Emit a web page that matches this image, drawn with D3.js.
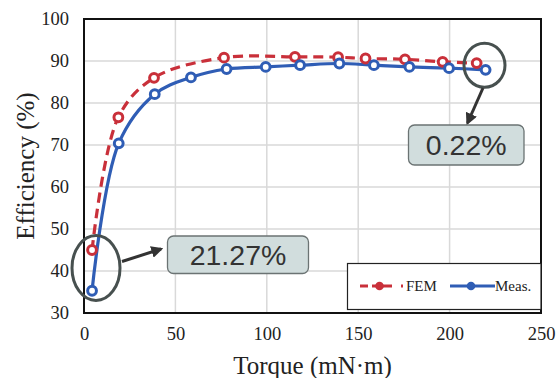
<!DOCTYPE html>
<html>
<head>
<meta charset="utf-8">
<script src="https://cdn.jsdelivr.net/npm/d3@7"></script>
<style>
  html, body { margin: 0; padding: 0; background: #fff; }
  svg { display: block; }
</style>
</head>
<body>
<svg id="chart" width="558" height="378"></svg>
<script>
// Motor efficiency vs. load torque: FEM prediction and measurement
const femTorque = [4.4, 18.8, 38.3, 76.6, 115.4, 139.0, 154.0, 175.6, 196.2, 214.8];
const femEff    = [45.0, 76.6, 86.0, 90.8, 91.0, 90.9, 90.6, 90.4, 89.8, 89.5];
const measTorque = [4.4, 19.0, 38.7, 58.5, 78.0, 99.4, 118.2, 139.7, 158.6, 178.0, 199.7, 219.7];
const measEff    = [35.3, 70.4, 82.1, 86.1, 88.1, 88.6, 89.0, 89.4, 89.0, 88.6, 88.3, 87.9];
const xTicks = [0, 50, 100, 150, 200, 250];
const yTicks = [30, 40, 50, 60, 70, 80, 90, 100];
const seriesNames = ["FEM", "Meas."];
const callouts = ["21.27%", "0.22%"];

const svg = d3.select("#chart");
const m = { left: 84, top: 19, right: 541, bottom: 313 };

const x = d3.scaleLinear().domain([0, 250]).range([m.left, m.right]);
const y = d3.scaleLinear().domain([30, 100]).range([m.bottom, m.top]);

const RED = "#c9303a";
const BLUE = "#2f5db5";
const SERIF = "'Liberation Serif', 'Times New Roman', serif";
const SANS = "'Liberation Sans', Arial, sans-serif";

// gridlines
const grid = svg.append("g");
grid.selectAll("line.gx").data(xTicks).join("line")
  .attr("x1", d => x(d)).attr("x2", d => x(d))
  .attr("y1", m.top).attr("y2", m.bottom)
  .attr("stroke", "#d9d9d9").attr("stroke-width", 1.5);
grid.selectAll("line.gy").data(yTicks).join("line")
  .attr("x1", m.left).attr("x2", m.right)
  .attr("y1", d => y(d)).attr("y2", d => y(d))
  .attr("stroke", "#d9d9d9").attr("stroke-width", 1.5);

// axes (labels only, no tick marks)
const xAxis = svg.append("g").attr("transform", `translate(0,${m.bottom})`)
  .call(d3.axisBottom(x).tickValues(xTicks).tickSize(0).tickPadding(14));
const yAxis = svg.append("g").attr("transform", `translate(${m.left},0)`)
  .call(d3.axisLeft(y).tickValues(yTicks).tickSize(0).tickPadding(15));
[xAxis, yAxis].forEach(a => {
  a.select(".domain").remove();
  a.selectAll("text").attr("font-family", SERIF).attr("font-size", 18.5).attr("fill", "#222");
});

// plot frame
svg.append("rect")
  .attr("x", m.left).attr("y", m.top)
  .attr("width", m.right - m.left).attr("height", m.bottom - m.top)
  .attr("fill", "none").attr("stroke", "#111").attr("stroke-width", 2);

// series
const fem = femTorque.map((t, i) => [t, femEff[i]]);
const meas = measTorque.map((t, i) => [t, measEff[i]]);
const line = d3.line().x(d => x(d[0])).y(d => y(d[1])).curve(d3.curveCatmullRom.alpha(0.5));

svg.append("path").datum(fem).attr("d", line)
  .attr("fill", "none").attr("stroke", RED).attr("stroke-width", 3.2)
  .attr("stroke-dasharray", "10,6");
svg.append("path").datum(meas).attr("d", line)
  .attr("fill", "none").attr("stroke", BLUE).attr("stroke-width", 3.2);

svg.append("g").selectAll("circle").data(fem).join("circle")
  .attr("cx", d => x(d[0])).attr("cy", d => y(d[1])).attr("r", 4.4)
  .attr("fill", "#fff").attr("stroke", RED).attr("stroke-width", 3);
svg.append("g").selectAll("circle").data(meas).join("circle")
  .attr("cx", d => x(d[0])).attr("cy", d => y(d[1])).attr("r", 4.4)
  .attr("fill", "#fff").attr("stroke", BLUE).attr("stroke-width", 3);

// axis titles
svg.append("text").attr("x", (m.left + m.right) / 2).attr("y", 374)
  .attr("text-anchor", "middle").attr("font-family", SERIF).attr("font-size", 25)
  .attr("fill", "#222").text("Torque (mN·m)");
svg.append("text").attr("transform", `translate(34,${(m.top + m.bottom) / 2}) rotate(-90)`)
  .attr("text-anchor", "middle").attr("font-family", SERIF).attr("font-size", 25)
  .attr("fill", "#222").text("Efficiency (%)");

// legend
const lg = svg.append("g");
lg.append("rect").attr("x", 347.5).attr("y", 263.5).attr("width", 193.5).attr("height", 46)
  .attr("fill", "#fff").attr("stroke", "#222").attr("stroke-width", 1.2);
lg.append("line").attr("x1", 360).attr("x2", 403).attr("y1", 286).attr("y2", 286)
  .attr("stroke", RED).attr("stroke-width", 3).attr("stroke-dasharray", "8,4,20,9,2");
lg.append("circle").attr("cx", 379.5).attr("cy", 286).attr("r", 4.3).attr("fill", RED);
lg.append("text").attr("x", 406).attr("y", 291).attr("font-family", SERIF).attr("font-size", 15)
  .attr("fill", "#222").text(seriesNames[0]);
lg.append("line").attr("x1", 450).attr("x2", 495).attr("y1", 286).attr("y2", 286)
  .attr("stroke", BLUE).attr("stroke-width", 3);
lg.append("circle").attr("cx", 471).attr("cy", 286).attr("r", 4.3).attr("fill", BLUE);
lg.append("text").attr("x", 495).attr("y", 291).attr("font-family", SERIF).attr("font-size", 15)
  .attr("fill", "#222").text(seriesNames[1]);

// callouts: ellipse around points, arrow, value box
const defs = svg.append("defs");
defs.append("marker").attr("id", "arrowhead").attr("viewBox", "0 0 10 10")
  .attr("refX", 8).attr("refY", 5).attr("markerWidth", 4).attr("markerHeight", 4)
  .attr("orient", "auto").attr("markerUnits", "strokeWidth")
  .append("path").attr("d", "M0,0 L10,5 L0,10 z").attr("fill", "#333");

const DARK = "#47504f";
function callout(cx, cy, rx, ry, ax1, ay1, ax2, ay2, bx, by, bw, bh, label) {
  const g = svg.append("g");
  g.append("ellipse").attr("cx", cx).attr("cy", cy).attr("rx", rx).attr("ry", ry)
    .attr("fill", "none").attr("stroke", DARK).attr("stroke-width", 3);
  g.append("line").attr("x1", ax1).attr("y1", ay1).attr("x2", ax2).attr("y2", ay2)
    .attr("stroke", "#333").attr("stroke-width", 3).attr("marker-end", "url(#arrowhead)");
  g.append("rect").attr("x", bx).attr("y", by).attr("width", bw).attr("height", bh)
    .attr("rx", 6).attr("fill", "#d1dddd").attr("stroke", "#6b7373").attr("stroke-width", 1.3);
  g.append("text").attr("x", bx + bw / 2).attr("y", by + bh / 2 + 10)
    .attr("text-anchor", "middle").attr("font-family", SANS).attr("font-size", 28.5)
    .attr("fill", "#333").text(label);
}
callout(96, 268, 24, 32.5, 122, 261.5, 161, 249, 167.5, 236, 141, 37.5, callouts[0]);
callout(484.5, 65.3, 20.5, 22, 483, 88, 467.5, 123, 408.5, 125, 115.5, 40, callouts[1]);
</script>
</body>
</html>
